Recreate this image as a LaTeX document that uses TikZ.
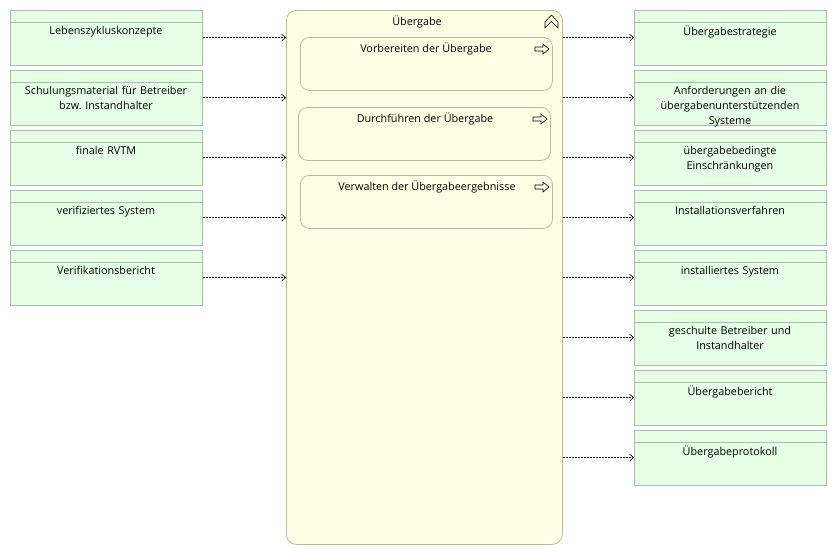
\documentclass[tikz,border=0pt]{standalone}
\usepackage{fontspec}
\setmainfont{Open Sans}
\usetikzlibrary{arrows.meta}
\frenchspacing
\definecolor{gfill}{HTML}{E6FFE6}
\definecolor{gline}{HTML}{A3C2A3}
\definecolor{yfill}{HTML}{FFFFE6}
\definecolor{yline}{HTML}{BDB99B}
\tikzset{
  artifact/.style={draw=gline, fill=gfill, line width=0.8pt, minimum width=192pt, minimum height=54.5pt, inner sep=0pt, anchor=north west},
  arttext/.style={anchor=north, align=center, text width=190pt, inner sep=0pt, font=\fontsize{10.8}{15}\selectfont},
  mainbox/.style={draw=yline, fill=yfill, line width=0.8pt, rounded corners=10pt, minimum width=276pt, minimum height=534pt, inner sep=0pt, anchor=north west},
  subbox/.style={draw=yline, fill=yfill, line width=0.8pt, rounded corners=9pt, minimum width=252pt, minimum height=53pt, inner sep=0pt, anchor=north west},
  lbl/.style={anchor=north, inner sep=0pt, font=\fontsize{10.8}{15}\selectfont},
  flow/.style={dash pattern=on 2pt off 1pt, line width=0.6pt, -{Straight Barb[length=4pt,width=7pt,line width=0.6pt]}},
  icon/.style={line width=0.6pt, draw=black, line join=miter}
}
\begin{document}
\begin{tikzpicture}[x=1pt,y=-1pt]
\useasboundingbox (0,0) rectangle (837,555);
% central activity
\node[mainbox] (main) at (286,10) {};
\node[lbl] (maint) at (417,16) {Übergabe};
\draw[icon] (545,28) -- (545,22) -- (551.5,15) -- (558,22) -- (558,28) -- (551.5,21.5) -- cycle;
% sub activities
\node[subbox] (s1) at (300,37) {};
\node[lbl] (s1t) at (426,43) {Vorbereiten der Übergabe};
\node[subbox] (s2) at (298,107) {};
\node[lbl] (s2t) at (425,113) {Durchführen der Übergabe};
\node[subbox] (s3) at (300,175) {};
\node[lbl] (s3t) at (427,181) {Verwalten der Übergabeergebnisse};
\foreach \xx/\yy in {535/49, 533/119, 535/187}{
  \draw[icon] (\xx,\yy-2) -- (\xx+8,\yy-2) -- (\xx+8,\yy-5) -- (\xx+14,\yy) -- (\xx+8,\yy+5) -- (\xx+8,\yy+2) -- (\xx,\yy+2) -- cycle;
}
% left artifacts
\foreach \i/\yy/\t in {1/10/Lebenszykluskonzepte, 2/70/{Schulungsmaterial für Betreiber\\bzw. Instandhalter}, 3/130/finale RVTM, 4/190/verifiziertes System, 5/250/Verifikationsbericht}{
  \node[artifact] (l\i) at (10,\yy) {};
  \draw[gline, line width=0.8pt] (10,\yy+12) -- (202,\yy+12);
  \node[arttext] (l\i t) at (106,\yy+16) {\t};
  \draw[flow] (l\i.east) -- (l\i.east -| main.west);
}
% right artifacts
\foreach \i/\yy/\t in {1/10/Übergabestrategie, 2/70/{Anforderungen an die\\übergabenunterstützenden\\Systeme}, 3/130/{übergabebedingte\\Einschränkungen}, 4/190/Installationsverfahren, 5/250/installiertes System, 6/310/{geschulte Betreiber und\\Instandhalter}, 7/370/Übergabebericht, 8/430/Übergabeprotokoll}{
  \node[artifact] (r\i) at (634,\yy) {};
  \draw[gline, line width=0.8pt] (634,\yy+12) -- (826,\yy+12);
  \node[arttext] (r\i t) at (730,\yy+16) {\t};
  \draw[flow] (r\i.west -| main.east) -- (r\i.west);
}
\end{tikzpicture}
\end{document}
